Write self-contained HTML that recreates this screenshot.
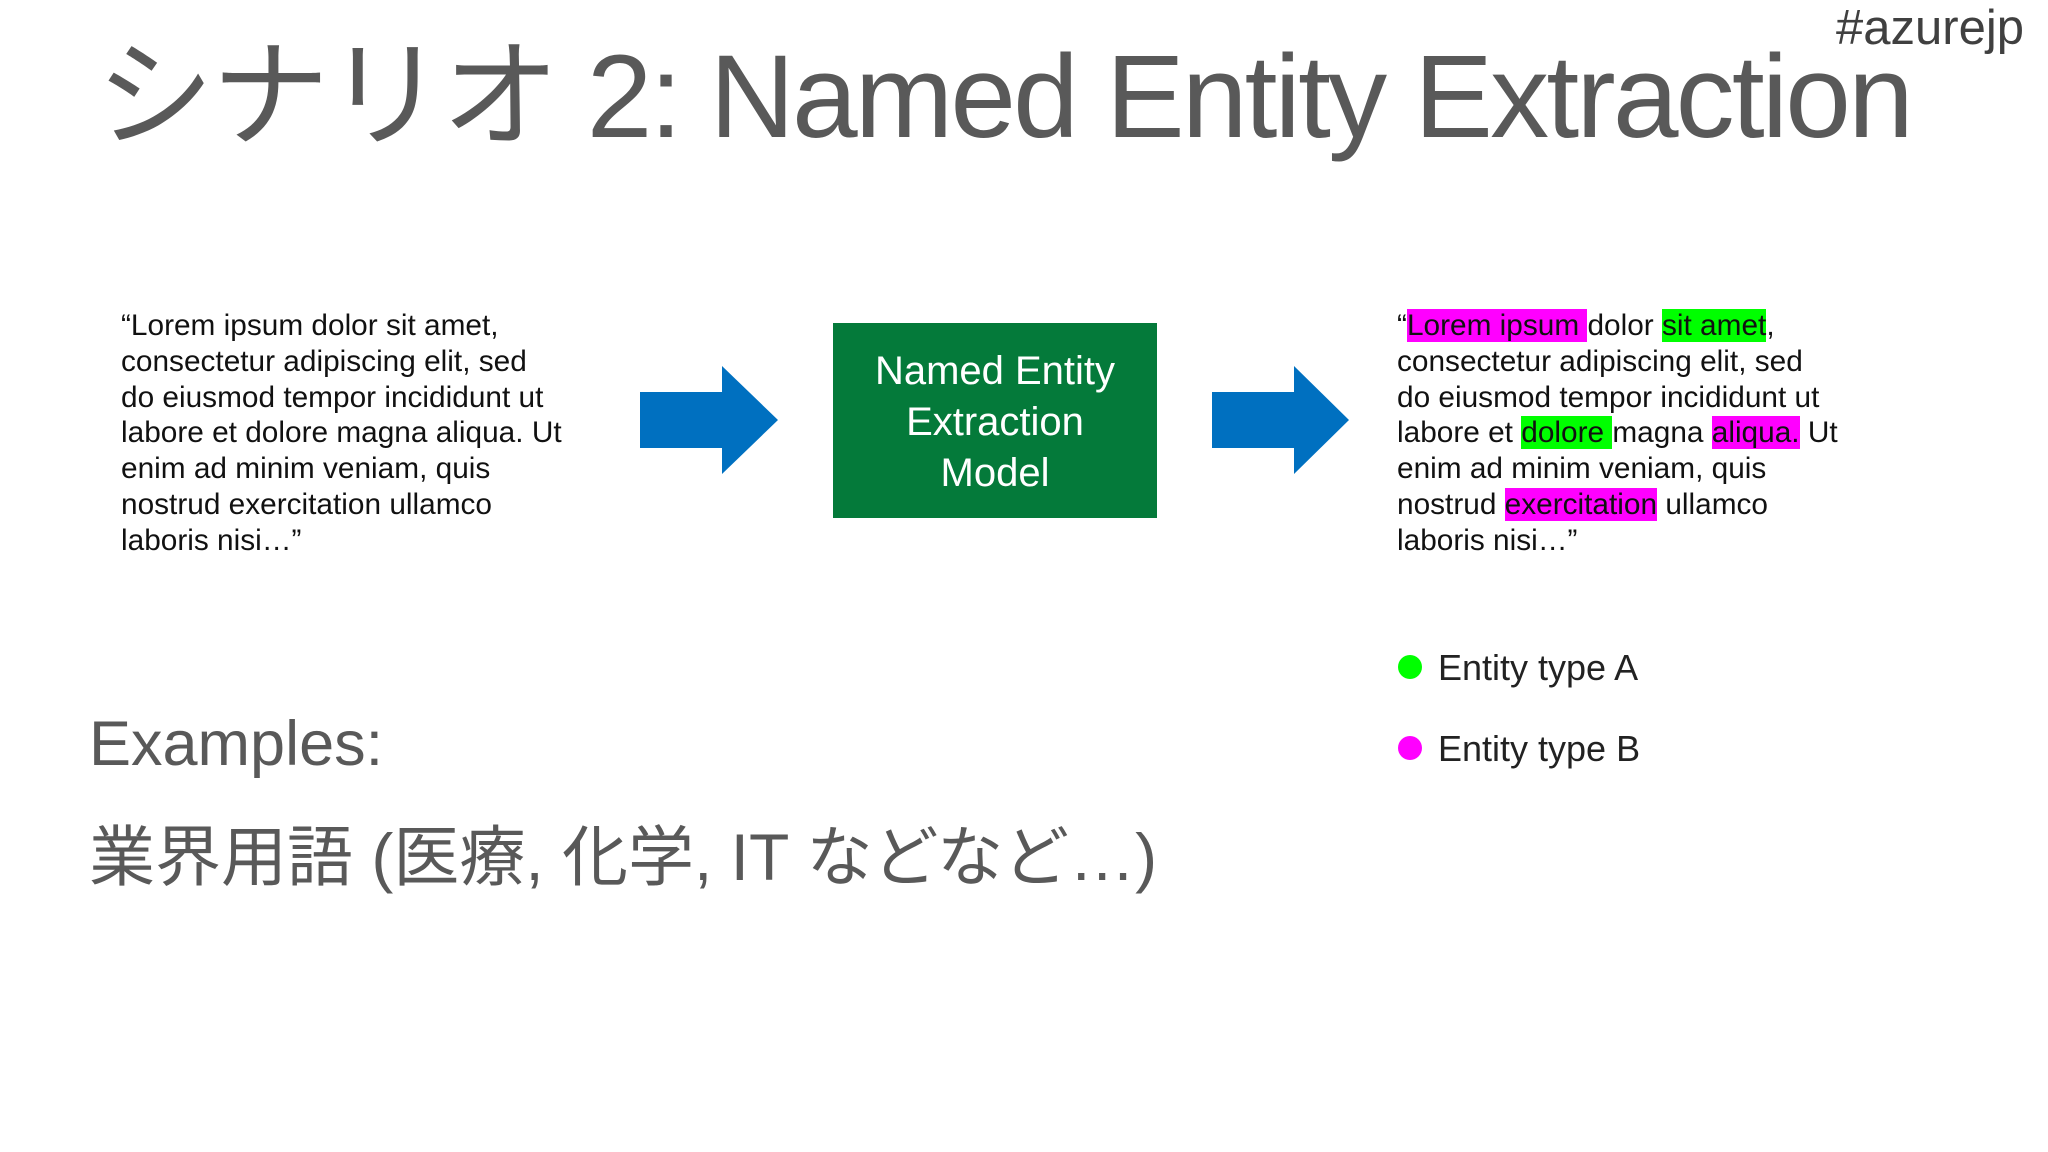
<!DOCTYPE html>
<html><head><meta charset="utf-8"><style>
body{margin:0;width:2048px;height:1152px;background:#fff;position:relative;overflow:hidden;font-family:"Liberation Sans","Noto Sans CJK JP",sans-serif}
.a{position:absolute;white-space:nowrap}
.t{font-size:29.8px;line-height:35.8px;color:#111}
.m{background:#ff00ff}.g{background:#00ff00}
</style></head><body>
<div class="a" style="left:1836px;top:0px;font-size:49px;color:#404040">#azurejp</div>
<div class="a" style="left:96px;top:0px;font-size:118px;color:#595959;letter-spacing:-2.8px">シナリオ 2: Named Entity Extraction</div>
<div class="a t" style="left:121px;top:308px">“Lorem ipsum dolor sit amet,<br>consectetur adipiscing elit, sed<br>do eiusmod tempor incididunt ut<br>labore et dolore magna aliqua. Ut<br>enim ad minim veniam, quis<br>nostrud exercitation ullamco<br>laboris nisi…”</div>
<svg class="a" style="left:0;top:0" width="2048" height="1152">
<polygon points="640,392 722,392 722,366 778,420 722,474 722,448 640,448" fill="#0070c0"/>
<polygon points="1212,392 1294,392 1294,366 1349,420 1294,474 1294,448 1212,448" fill="#0070c0"/>
<rect x="833" y="323" width="324" height="195" fill="#047a3a"/>
<circle cx="1410" cy="667" r="12" fill="#00ff00"/>
<circle cx="1410" cy="748" r="12" fill="#ff00ff"/>
</svg>
<div class="a" style="left:833px;top:346px;width:324px;text-align:center;color:#fff;font-size:40px;line-height:51px">Named Entity<br>Extraction<br>Model</div>
<div class="a t" style="left:1397px;top:308px">“<span class="m">Lorem ipsum </span>dolor <span class="g">sit amet</span>,<br>consectetur adipiscing elit, sed<br>do eiusmod tempor incididunt ut<br>labore et <span class="g">dolore </span>magna <span class="m">aliqua.</span> Ut<br>enim ad minim veniam, quis<br>nostrud <span class="m">exercitation</span> ullamco<br>laboris nisi…”</div>
<div class="a" style="left:1438px;top:647px;font-size:36px;color:#222">Entity type A</div>
<div class="a" style="left:1438px;top:728px;font-size:36px;color:#222">Entity type B</div>
<div class="a" style="left:89px;top:708px;font-size:63px;color:#595959">Examples:</div>
<div class="a" style="left:89px;top:804px;font-size:66px;color:#595959">業界用語 (医療, 化学, IT などなど…)</div>
</body></html>
